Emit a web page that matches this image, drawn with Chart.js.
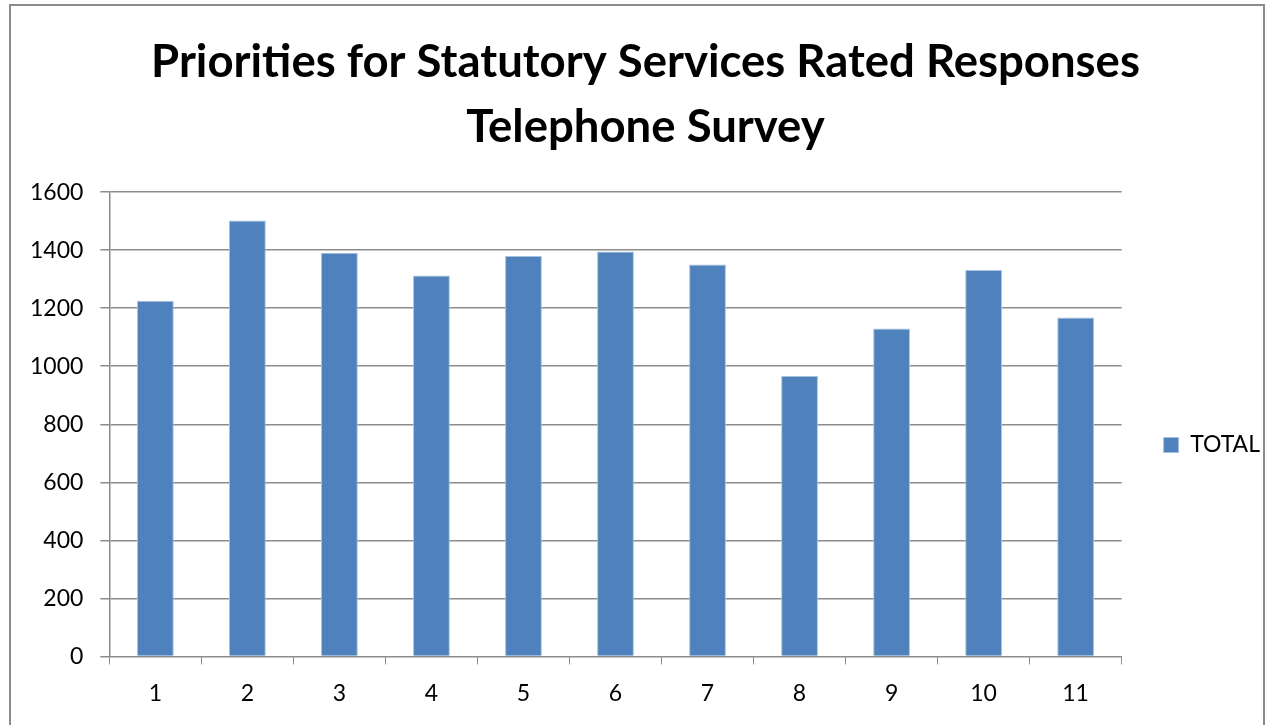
<!DOCTYPE html>
<html>
<head>
<meta charset="utf-8">
<script src="https://cdn.jsdelivr.net/npm/chart.js@4.4.0/dist/chart.umd.min.js"></script>
<style>
html,body{margin:0;padding:0;background:#fff;overflow:hidden;}
#wrap{position:relative;width:1271px;height:725px;}
#frame{position:absolute;left:9px;top:4px;width:1256px;height:740px;border:2px solid #8c8c8c;box-sizing:border-box;}
canvas{position:absolute;left:0;top:0;}
</style>
</head>
<body>
<div id="wrap">
<div id="frame"></div>
<canvas id="c" width="1271" height="725"></canvas>
</div>
<script>
const categories = ["1","2","3","4","5","6","7","8","9","10","11"];
const totalValues = [1226, 1502, 1391, 1313, 1380, 1395, 1351, 966, 1130, 1332, 1168];
const seriesName = "TOTAL";
const titleLines = ["Priorities for Statutory Services Rated Responses", "Telephone Survey"];
const yTickValues = [0, 200, 400, 600, 800, 1000, 1200, 1400, 1600];

// shift the legend and title boxes (position only)
const legendShift = { dx: 32, dy: 69 };
const titleShift = { dx: 20 };
const shiftPlugin = {
  id: 'boxShift',
  afterLayout(chart) {
    const l = chart.legend;
    if (l) {
      l.left += legendShift.dx; l.right += legendShift.dx;
      l.top += legendShift.dy; l.bottom += legendShift.dy;
    }
    const t = chart.titleBlock;
    if (t) { t.left += titleShift.dx; t.right += titleShift.dx; }
  }
};

const ctx = document.getElementById('c').getContext('2d');
new Chart(ctx, {
  type: 'bar',
  data: {
    labels: categories,
    datasets: [{
      label: seriesName,
      data: totalValues,
      backgroundColor: '#4F81BD',
      borderColor: '#A9C1E0',
      borderWidth: 1,
      barPercentage: 0.4,
      categoryPercentage: 1.0
    }]
  },
  plugins: [shiftPlugin],
  options: {
    responsive: false,
    animation: false,
    devicePixelRatio: 1,
    layout: { padding: { left: 13, right: 33, top: 30, bottom: 3 } },
    plugins: {
      title: {
        display: true,
        text: titleLines,
        color: '#000',
        font: { family: 'Lato', size: 45.5, weight: 'bold', lineHeight: 1.43 },
        padding: { top: 0, bottom: 32 }
      },
      legend: {
        position: 'right',
        align: 'center',
        labels: {
          color: '#000',
          font: { family: 'Lato', size: 23 },
          boxWidth: 15,
          boxHeight: 15,
          padding: 10,
          useBorderRadius: false
        }
      },
      tooltip: { enabled: false }
    },
    scales: {
      x: {
        grid: {
          display: true,
          offset: true,
          drawOnChartArea: false,
          drawTicks: true,
          tickLength: 8,
          color: '#8c8c8c'
        },
        border: { display: true, color: '#8c8c8c', width: 1 },
        ticks: { color: '#000', font: { family: 'Lato', size: 23 }, padding: 15 }
      },
      y: {
        min: 0,
        max: 1600,
        afterBuildTicks(scale) { scale.ticks = yTickValues.map(v => ({ value: v })); },
        ticks: {
          color: '#000',
          font: { family: 'Lato', size: 23 },
          padding: 17,
          callback: v => String(v)
        },
        grid: { color: '#8c8c8c', lineWidth: 1.5, drawTicks: true, tickLength: 9 },
        border: { display: true, color: '#8c8c8c', width: 1.5 }
      }
    }
  }
});
</script>
</body>
</html>
